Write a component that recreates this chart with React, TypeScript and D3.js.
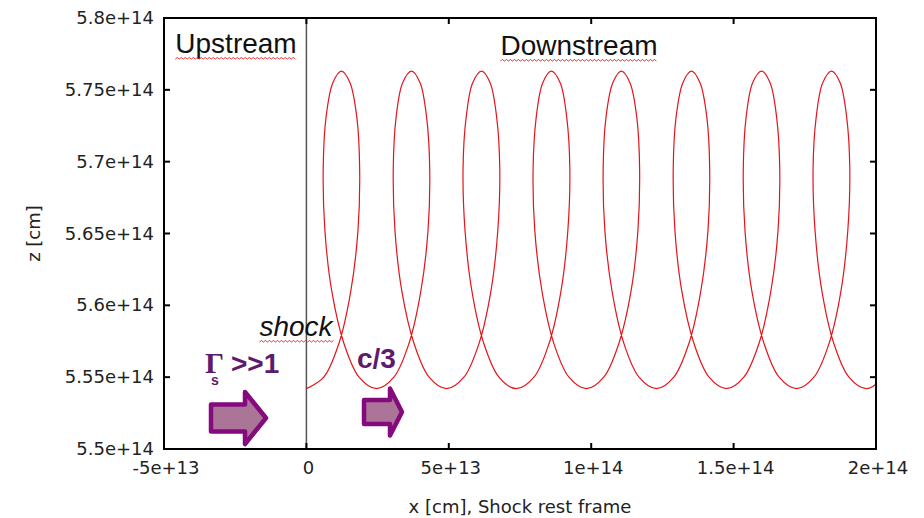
import { useEffect, useRef } from 'react';
import * as d3 from 'd3';

// trajectory points (x in 1e13 cm, z in 1e14 cm), 16 per gyration
const pathX = [
  0, 0.61, 1.15, 1.56, 1.81, 1.87, 1.77, 1.53, 1.23, 0.93, 0.69, 0.59, 0.65, 0.89, 1.31, 1.85,
  2.46, 3.07, 3.61, 4.02, 4.27, 4.33, 4.22, 3.99, 3.69, 3.38, 3.15, 3.05, 3.11, 3.35, 3.77, 4.31,
  4.92, 5.53, 6.07, 6.48, 6.72, 6.79, 6.68, 6.45, 6.15, 5.84, 5.61, 5.5, 5.57, 5.81, 6.22, 6.76,
  7.37, 7.99, 8.53, 8.94, 9.18, 9.25, 9.14, 8.91, 8.6, 8.3, 8.07, 7.96, 8.02, 8.27, 8.68, 9.22,
  9.83, 10.44, 10.98, 11.4, 11.64, 11.7, 11.6, 11.36, 11.06, 10.76, 10.52, 10.42, 10.48, 10.73, 11.14, 11.68,
  12.29, 12.9, 13.44, 13.85, 14.1, 14.16, 14.06, 13.82, 13.52, 13.22, 12.98, 12.88, 12.94, 13.18, 13.6, 14.14,
  14.75, 15.36, 15.9, 16.31, 16.56, 16.62, 16.51, 16.28, 15.98, 15.67, 15.44, 15.34, 15.4, 15.64, 16.06, 16.6,
  17.21, 17.82, 18.36, 18.77, 19.01, 19.08, 18.97, 18.74, 18.44, 18.13, 17.9, 17.79, 17.86, 18.1, 18.51, 19.05,
  19.66, 20.28,
];
const pathZ = [
  5.542, 5.55, 5.574, 5.61, 5.652, 5.695, 5.731, 5.755, 5.763, 5.755, 5.731, 5.695, 5.652, 5.61, 5.574, 5.55,
  5.542, 5.55, 5.574, 5.61, 5.652, 5.695, 5.731, 5.755, 5.763, 5.755, 5.731, 5.695, 5.652, 5.61, 5.574, 5.55,
  5.542, 5.55, 5.574, 5.61, 5.652, 5.695, 5.731, 5.755, 5.763, 5.755, 5.731, 5.695, 5.652, 5.61, 5.574, 5.55,
  5.542, 5.55, 5.574, 5.61, 5.652, 5.695, 5.731, 5.755, 5.763, 5.755, 5.731, 5.695, 5.652, 5.61, 5.574, 5.55,
  5.542, 5.55, 5.574, 5.61, 5.652, 5.695, 5.731, 5.755, 5.763, 5.755, 5.731, 5.695, 5.652, 5.61, 5.574, 5.55,
  5.542, 5.55, 5.574, 5.61, 5.652, 5.695, 5.731, 5.755, 5.763, 5.755, 5.731, 5.695, 5.652, 5.61, 5.574, 5.55,
  5.542, 5.55, 5.574, 5.61, 5.652, 5.695, 5.731, 5.755, 5.763, 5.755, 5.731, 5.695, 5.652, 5.61, 5.574, 5.55,
  5.542, 5.55, 5.574, 5.61, 5.652, 5.695, 5.731, 5.755, 5.763, 5.755, 5.731, 5.695, 5.652, 5.61, 5.574, 5.55,
  5.542, 5.55,
];

const xTicks = [-5e13, 0, 5e13, 1e14, 1.5e14, 2e14];
const zTicks = [5.5e14, 5.55e14, 5.6e14, 5.65e14, 5.7e14, 5.75e14, 5.8e14];
const shockX = 0;

const W = 924;
const H = 518;
const plot = { left: 164, right: 876, top: 18, bottom: 449 };

const purple = '#850a7d';
const textPurple = '#5e1a6c';
const sans = 'DejaVu Sans, sans-serif';
const labelFont = 'Liberation Sans, Arial, sans-serif';

const fmt = (d: number) => (d === 0 ? '0' : d3.format('~e')(d).replace('−', '-'));

// red spell-check squiggle under a word
const squiggle = (x0: number, x1: number, y: number) => {
  let p = `M${x0},${y}`;
  let up = true;
  for (let x = x0 + 2; x <= x1; x += 2) {
    p += ` L${x},${y + (up ? -1.5 : 0)}`;
    up = !up;
  }
  return p;
};

// block arrow pointing right
const blockArrow = (x0: number, x1: number, xh: number, yc: number, bodyH: number, headH: number) =>
  `M${x0},${yc - bodyH / 2} L${xh},${yc - bodyH / 2} L${xh},${yc - headH / 2} L${x1},${yc} ` +
  `L${xh},${yc + headH / 2} L${xh},${yc + bodyH / 2} L${x0},${yc + bodyH / 2} Z`;

const App = () => {
  const ref = useRef<SVGSVGElement>(null);

  useEffect(() => {
    const svg = d3.select(ref.current);
    svg.selectAll('*').remove();

    const x = d3.scaleLinear().domain([-5e13, 2e14]).range([plot.left, plot.right]);
    const y = d3.scaleLinear().domain([5.5e14, 5.8e14]).range([plot.bottom, plot.top]);

    svg.append('rect').attr('width', W).attr('height', H).attr('fill', 'white');

    svg
      .append('defs')
      .append('clipPath')
      .attr('id', 'plotclip')
      .append('rect')
      .attr('x', plot.left)
      .attr('y', plot.top)
      .attr('width', plot.right - plot.left)
      .attr('height', plot.bottom - plot.top);

    // shock line
    svg
      .append('line')
      .attr('x1', x(shockX))
      .attr('x2', x(shockX))
      .attr('y1', plot.top)
      .attr('y2', plot.bottom)
      .attr('stroke', '#555')
      .attr('stroke-width', 1.5);

    // trajectory
    const pts: [number, number][] = pathX.map((v, i) => [v * 1e13, pathZ[i] * 1e14]);
    const line = d3
      .line<[number, number]>()
      .x((d) => x(d[0]))
      .y((d) => y(d[1]))
      .curve(d3.curveCatmullRom.alpha(0.5));
    svg
      .append('path')
      .attr('d', line(pts))
      .attr('clip-path', 'url(#plotclip)')
      .attr('fill', 'none')
      .attr('stroke', '#e3141b')
      .attr('stroke-width', 1.2);

    // frame + inward ticks on all sides
    const axes = svg.append('g').attr('stroke', 'black').attr('stroke-width', 2);
    axes
      .append('rect')
      .attr('x', plot.left)
      .attr('y', plot.top)
      .attr('width', plot.right - plot.left)
      .attr('height', plot.bottom - plot.top)
      .attr('fill', 'none');
    xTicks.forEach((t) => {
      axes.append('line').attr('x1', x(t)).attr('x2', x(t)).attr('y1', plot.bottom).attr('y2', plot.bottom - 6);
      axes.append('line').attr('x1', x(t)).attr('x2', x(t)).attr('y1', plot.top).attr('y2', plot.top + 6);
    });
    zTicks.forEach((t) => {
      axes.append('line').attr('x1', plot.left).attr('x2', plot.left + 6).attr('y1', y(t)).attr('y2', y(t));
      axes.append('line').attr('x1', plot.right).attr('x2', plot.right - 6).attr('y1', y(t)).attr('y2', y(t));
    });

    // tick labels
    svg
      .append('g')
      .selectAll('text')
      .data(xTicks)
      .enter()
      .append('text')
      .attr('x', (d) => x(d) + 2)
      .attr('y', plot.bottom + 25)
      .attr('text-anchor', 'middle')
      .attr('font-family', sans)
      .attr('font-size', 18)
      .attr('fill', '#222')
      .text(fmt);
    svg
      .append('g')
      .selectAll('text')
      .data(zTicks)
      .enter()
      .append('text')
      .attr('x', plot.left - 10)
      .attr('y', (d) => y(d) + 6)
      .attr('text-anchor', 'end')
      .attr('font-family', sans)
      .attr('font-size', 18)
      .attr('fill', '#222')
      .text(fmt);

    // axis titles
    svg
      .append('text')
      .attr('x', (plot.left + plot.right) / 2)
      .attr('y', 513)
      .attr('text-anchor', 'middle')
      .attr('font-family', sans)
      .attr('font-size', 18)
      .attr('fill', '#222')
      .text('x [cm], Shock rest frame');
    svg
      .append('text')
      .attr('transform', `translate(40,${(plot.top + plot.bottom) / 2}) rotate(-90)`)
      .attr('text-anchor', 'middle')
      .attr('font-family', sans)
      .attr('font-size', 18)
      .attr('fill', '#222')
      .text('z [cm]');

    // region labels
    const region = (txt: string, cx: number, base: number, italic = false) => {
      const t = svg
        .append('text')
        .attr('x', cx)
        .attr('y', base)
        .attr('text-anchor', 'middle')
        .attr('font-family', labelFont)
        .attr('font-style', italic ? 'italic' : 'normal')
        .attr('font-size', 28)
        .attr('fill', '#111')
        .text(txt);
      const bb = (t.node() as SVGTextElement).getBBox();
      svg
        .append('path')
        .attr('d', squiggle(bb.x, bb.x + bb.width, base + 6))
        .attr('fill', 'none')
        .attr('stroke', '#e02020')
        .attr('stroke-width', 0.9);
    };
    region('Upstream', 236, 53);
    region('Downstream', 579, 55);
    region('shock', 296, 336, true);

    // Gamma_s >> 1 (one text with tspans) and c/3
    const g = svg.append('g').attr('fill', textPurple).attr('font-weight', 'bold');
    const gam = g.append('text').attr('x', 205).attr('y', 373).attr('font-family', labelFont);
    gam
      .append('tspan')
      .attr('font-family', 'Liberation Serif, Times New Roman, serif')
      .attr('font-size', 30)
      .text('Γ');
    gam.append('tspan').attr('x', 211).attr('y', 385).attr('font-size', 14).text('s');
    gam.append('tspan').attr('x', 231).attr('y', 373).attr('font-size', 28).text('>>1');
    g.append('text')
      .attr('x', 357)
      .attr('y', 368)
      .attr('font-family', labelFont)
      .attr('font-size', 28)
      .text('c/3');

    // velocity arrows
    svg
      .append('path')
      .attr('d', blockArrow(211, 266, 245, 418, 27, 52))
      .attr('fill', '#ab7597')
      .attr('stroke', purple)
      .attr('stroke-width', 4.5)
      .attr('stroke-linejoin', 'round');
    svg
      .append('path')
      .attr('d', blockArrow(364, 402, 390, 412, 24, 47))
      .attr('fill', '#ab7597')
      .attr('stroke', purple)
      .attr('stroke-width', 4.5)
      .attr('stroke-linejoin', 'round');
  }, []);

  return (
    <svg
      ref={ref}
      width={W}
      height={H}
      style={{ position: 'absolute', left: 0, top: 0, display: 'block' }}
    />
  );
};

export default App;
